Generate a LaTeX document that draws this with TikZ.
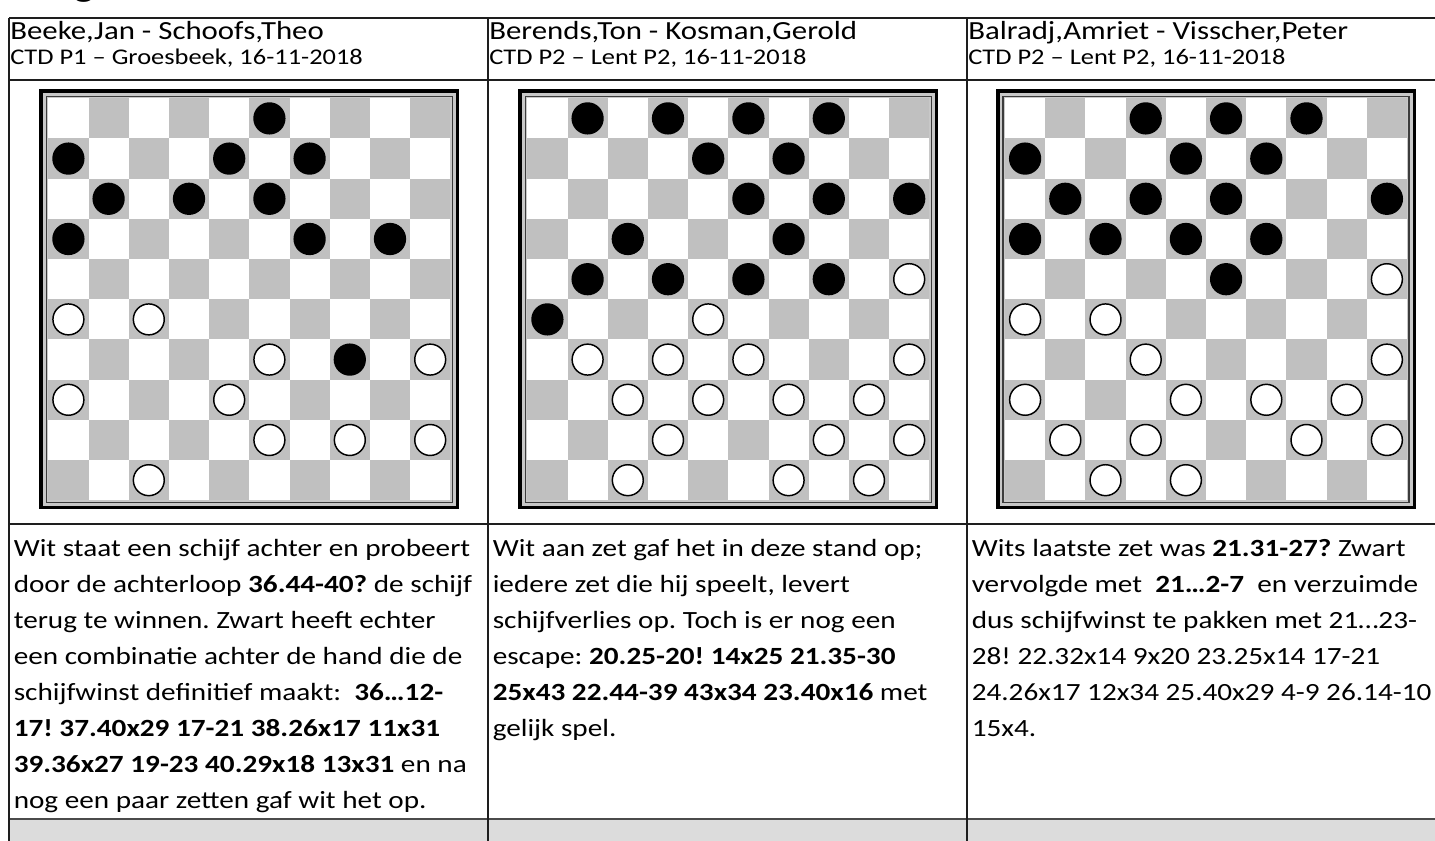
\documentclass[tikz,border=0pt]{standalone}
\usepackage{fontspec}
\setmainfont{Carlito}[FakeStretch=1.18]
\definecolor{darksq}{RGB}{192,192,192}
\definecolor{framegrey}{RGB}{200,200,200}
\definecolor{framedark}{RGB}{60,60,60}
\definecolor{rowgrey}{RGB}{220,220,220}
\definecolor{rulecol}{RGB}{30,30,30}
\tikzset{
  celltitle/.style={anchor=base west, inner sep=0pt, font=\fontsize{19.6}{24}\selectfont},
  cellsub/.style={anchor=base west, inner sep=0pt, font=\fontsize{16.8}{20}\selectfont},
  cellbody/.style={anchor=base west, inner sep=0pt, font=\fontsize{18.56}{23}\selectfont},
  tablerule/.style={draw=rulecol, line width=0.8pt},
  bottomrule/.style={draw=rulecol!80!white, line width=1.3pt},
  blackpiece/.style={fill=black},
  whitepiece/.style={fill=white, draw=black, line width=1.1pt},
}
\newcommand{\drawboard}[4]{%
  \begin{scope}[shift={(#1,#2)}]
    \fill[black] (-9,-9) rectangle (411,411);
    \fill[framegrey] (-5.5,-5.5) rectangle (407.5,407.5);
    \draw[framedark, line width=1pt] (-2,-2) rectangle (404,404);
    \fill[white] (0,0) rectangle (402,402);
    \foreach \r in {0,...,9}{
      \foreach \c in {0,...,9}{
        \pgfmathtruncatemacro{\oddsq}{mod(\r+\c,2)}
        \ifnum\oddsq=1
          \fill[darksq] ({\c*40.2},{\r*40.2}) rectangle ({(\c+1)*40.2},{(\r+1)*40.2});
        \fi
      }
    }
    \foreach \r/\c in {#3}{
      \fill[blackpiece] ({(\c+0.5)*40.2},{(\r+0.5)*40.2}) circle[radius=12.1pt];
    }
    \foreach \r/\c in {#4}{
      \draw[whitepiece] ({(\c+0.5)*40.2},{(\r+0.5)*40.2}) circle[radius=11.6pt];
    }
  \end{scope}%
}
\frenchspacing
\begin{document}
\begin{tikzpicture}[x=0.75pt,y=-0.75pt]
\useasboundingbox (0,0) rectangle (1435,841);
\begin{scope}
\clip (0,0) rectangle (1435,841);
% cut-off heading above the table
\node[anchor=base west, inner sep=0pt, font=\fontsize{26}{30}\selectfont\bfseries] (heading) at (74,-3) {g};
% grey bottom row
\fill[rowgrey] (9,819) rectangle (1435,841);
% table rules
\draw[tablerule] (9,18) -- (1435,18);
\draw[tablerule] (9,80) -- (1435,80);
\draw[tablerule] (9,524) -- (1435,524);
\draw[bottomrule] (9,819) -- (1435,819);
\draw[tablerule] (9,18) -- (9,841);
\draw[tablerule] (488,18) -- (488,841);
\draw[tablerule] (967,18) -- (967,841);

% titles
\node[celltitle] (t1) at (10,40) {Beeke,Jan - Schoofs,Theo};
\node[celltitle] (t2) at (489,40) {Berends,Ton - Kosman,Gerold};
\node[celltitle] (t3) at (968,40) {Balradj,Amriet - Visscher,Peter};
\node[cellsub] (s1) at (10,65) {CTD P1 – Groesbeek, 16-11-2018};
\node[cellsub] (s2) at (489,65) {CTD P2 – Lent P2, 16-11-2018};
\node[cellsub] (s3) at (968,65) {CTD P2 – Lent P2, 16-11-2018};

% boards
\drawboard{48.3}{98.3}{0/5,1/0,1/4,1/6,2/1,2/3,2/5,3/0,3/6,3/8,6/7}{5/0,5/2,6/5,6/9,7/0,7/4,8/5,8/7,8/9,9/2}
\drawboard{527.3}{98.3}{0/1,0/3,0/5,0/7,1/4,1/6,2/5,2/7,2/9,3/2,3/6,4/1,4/3,4/5,4/7,5/0}{4/9,5/4,6/1,6/3,6/5,6/9,7/2,7/4,7/6,7/8,8/3,8/7,8/9,9/2,9/6,9/8}
\drawboard{1005}{98.3}{0/3,0/5,0/7,1/0,1/4,1/6,2/1,2/3,2/5,2/9,3/0,3/2,3/4,3/6,4/5}{4/9,5/0,5/2,6/3,6/9,7/0,7/4,7/6,7/8,8/1,8/3,8/7,8/9,9/2,9/4}

% column 1 text
\node[cellbody] (a1) at (13.5,556) {Wit staat een schijf achter en probeert};
\node[cellbody] (a2) at (13.5,592) {door de achterloop \textbf{36.44-40?} de schijf};
\node[cellbody] (a3) at (13.5,628) {terug te winnen. Zwart heeft echter};
\node[cellbody] (a4) at (13.5,664) {een combinatie achter de hand die de};
\node[cellbody] (a5) at (13.5,700) {schijfwinst definitief maakt:\ \ \textbf{36…12-}};
\node[cellbody] (a6) at (13.5,736) {\textbf{17! 37.40x29 17-21 38.26x17 11x31}};
\node[cellbody] (a7) at (13.5,772) {\textbf{39.36x27 19-23 40.29x18 13x31} en na};
\node[cellbody] (a8) at (13.5,808) {nog een paar zetten gaf wit het op.};

% column 2 text
\node[cellbody] (b1) at (492.5,556) {Wit aan zet gaf het in deze stand op;};
\node[cellbody] (b2) at (492.5,592) {iedere zet die hij speelt, levert};
\node[cellbody] (b3) at (492.5,628) {schijfverlies op. Toch is er nog een};
\node[cellbody] (b4) at (492.5,664) {escape: \textbf{20.25-20! 14x25 21.35-30}};
\node[cellbody] (b5) at (492.5,700) {\textbf{25x43 22.44-39 43x34 23.40x16} met};
\node[cellbody] (b6) at (492.5,736) {gelijk spel.};

% column 3 text
\node[cellbody] (c1) at (971.5,556) {Wits laatste zet was \textbf{21.31-27?} Zwart};
\node[cellbody] (c2) at (971.5,592) {vervolgde met\ \ \textbf{21…2-7}\ \ en verzuimde};
\node[cellbody] (c3) at (971.5,628) {dus schijfwinst te pakken met 21…23-};
\node[cellbody] (c4) at (971.5,664) {28! 22.32x14 9x20 23.25x14 17-21};
\node[cellbody] (c5) at (971.5,700) {24.26x17 12x34 25.40x29 4-9 26.14-10};
\node[cellbody] (c6) at (971.5,736) {15x4.};
\end{scope}
\end{tikzpicture}
\end{document}
